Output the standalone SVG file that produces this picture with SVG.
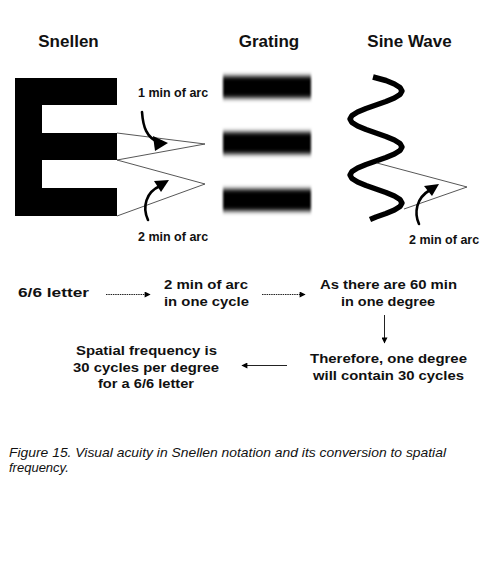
<svg xmlns="http://www.w3.org/2000/svg" width="500" height="577" viewBox="0 0 500 577">
<style>
text{font-family:"Liberation Sans",Arial,sans-serif;fill:#111;}
.t{font-size:17px;font-weight:bold;}
.l{font-size:12.5px;font-weight:bold;}
.f{font-size:13.5px;font-weight:bold;text-anchor:middle;}
.cap{font-size:13px;font-style:italic;}
.thin{fill:none;stroke:#444;stroke-width:0.9;}
.curve{fill:none;stroke:#000;stroke-width:2.6;stroke-linecap:round;}
.flow{fill:none;stroke:#222;stroke-width:1;}
</style>
<defs>
<filter id="blur" x="-10%" y="-50%" width="120%" height="200%"><feGaussianBlur stdDeviation="0.8 2.6"/></filter>
<marker id="ah" viewBox="0 0 10 10" refX="9" refY="5" markerWidth="7" markerHeight="6" markerUnits="userSpaceOnUse" orient="auto"><path d="M0,0 L10,5 L0,10 Z" fill="#000"/></marker>
<marker id="big" viewBox="0 0 10 10" refX="8" refY="5" markerWidth="12" markerHeight="12" markerUnits="userSpaceOnUse" orient="auto"><path d="M0,0 L10,5 L0,10 L2,5 Z" fill="#000"/></marker>
</defs>
<rect width="500" height="577" fill="#fff"/>

<g id="titles">
<text class="t" x="68.5" y="47" text-anchor="middle">Snellen</text>
<text class="t" x="269" y="47" text-anchor="middle">Grating</text>
<text class="t" x="409.5" y="47" text-anchor="middle">Sine Wave</text>
</g>

<g id="snellen">
<path d="M15,78 H117 V105 H42 V133 H117 V160 H42 V188 H117 V216 H15 Z" fill="#000"/>
<path class="thin" d="M117,133 L205,144 L117,160 L205,184 L117,216"/>
<path class="curve" d="M142,112 C143,126 146,138 160,143"/>
<path d="M153,136 L168,143 L155,151 Z" fill="#000"/>
<path class="curve" d="M148,220 C142,207 146,192 160,186"/>
<path d="M154,181 L169,180 L161,192 Z" fill="#000"/>
<text class="l" x="138" y="97">1 min of arc</text>
<text class="l" x="138" y="241">2 min of arc</text>
</g>

<g id="grating" filter="url(#blur)">
<rect x="223" y="76" width="88" height="22" fill="#000"/>
<rect x="223" y="132" width="88" height="22" fill="#000"/>
<rect x="223" y="189" width="88" height="22" fill="#000"/>
</g>

<g id="sinewave">
<polyline fill="none" stroke="#000" stroke-width="5.5" stroke-linejoin="round" points="373,77 385.95,80.5 394.38,84 400.02,87.5 402,91 400.02,94.5 394.38,98 385.95,101.5 376,105 366.05,108.5 357.62,112 351.98,115.5 350,119 351.98,122.5 357.62,126 366.05,129.5 376,133 385.95,136.5 394.38,140 400.02,143.5 402,147 400.02,150.5 394.38,154 385.95,157.5 376,161 366.05,164.5 357.62,168 351.98,171.5 350,175 351.98,178.5 357.62,182 366.05,185.5 376,189 385.95,192.5 394.38,196 400.02,199.5 402,203 400.02,206.5 394.38,210 385.95,213.5 376,217 370,219.5"/>
<path class="thin" d="M377,163 L467,187 L404,209"/>
<path class="curve" d="M419,224 C414,213 416,198 430,190"/>
<path d="M424,186 L439,184 L432,196 Z" fill="#000"/>
<text class="l" x="409" y="244">2 min of arc</text>
</g>

<g id="n-letter"><text class="f" x="53.5" y="297" font-size="15.5px" textLength="71" lengthAdjust="spacingAndGlyphs">6/6 letter</text></g>
<g id="n-cycle">
<text class="f" x="206" y="289" textLength="84" lengthAdjust="spacingAndGlyphs">2 min of arc</text>
<text class="f" x="206.5" y="306" textLength="85" lengthAdjust="spacingAndGlyphs">in one cycle</text>
</g>
<g id="n-sixty">
<text class="f" x="388.5" y="289" textLength="137" lengthAdjust="spacingAndGlyphs">As there are 60 min</text>
<text class="f" x="388" y="306" textLength="94" lengthAdjust="spacingAndGlyphs">in one degree</text>
</g>
<g id="n-therefore">
<text class="f" x="388.5" y="363" textLength="157" lengthAdjust="spacingAndGlyphs">Therefore, one degree</text>
<text class="f" x="388.5" y="380" textLength="151" lengthAdjust="spacingAndGlyphs">will contain 30 cycles</text>
</g>
<g id="n-spatial">
<text class="f" x="146.5" y="355" textLength="141" lengthAdjust="spacingAndGlyphs">Spatial frequency is</text>
<text class="f" x="146" y="372" textLength="146" lengthAdjust="spacingAndGlyphs">30 cycles per degree</text>
<text class="f" x="146" y="388" textLength="96" lengthAdjust="spacingAndGlyphs">for a 6/6 letter</text>
</g>

<g id="connectors">
<line class="flow" x1="106" y1="294.5" x2="150" y2="294.5" stroke-dasharray="1.5 0.8" marker-end="url(#ah)"/>
<line class="flow" x1="262" y1="294.5" x2="305" y2="294.5" stroke-dasharray="1.5 0.8" marker-end="url(#ah)"/>
<line class="flow" x1="384.5" y1="315" x2="384.5" y2="343" marker-end="url(#ah)"/>
<line class="flow" x1="287" y1="365.5" x2="242" y2="365.5" marker-end="url(#ah)"/>
</g>

<g id="caption">
<text class="cap" x="9" y="457" textLength="437" lengthAdjust="spacingAndGlyphs">Figure 15. Visual acuity in Snellen notation and its conversion to spatial</text>
<text class="cap" x="9" y="472">frequency.</text>
</g>
</svg>
